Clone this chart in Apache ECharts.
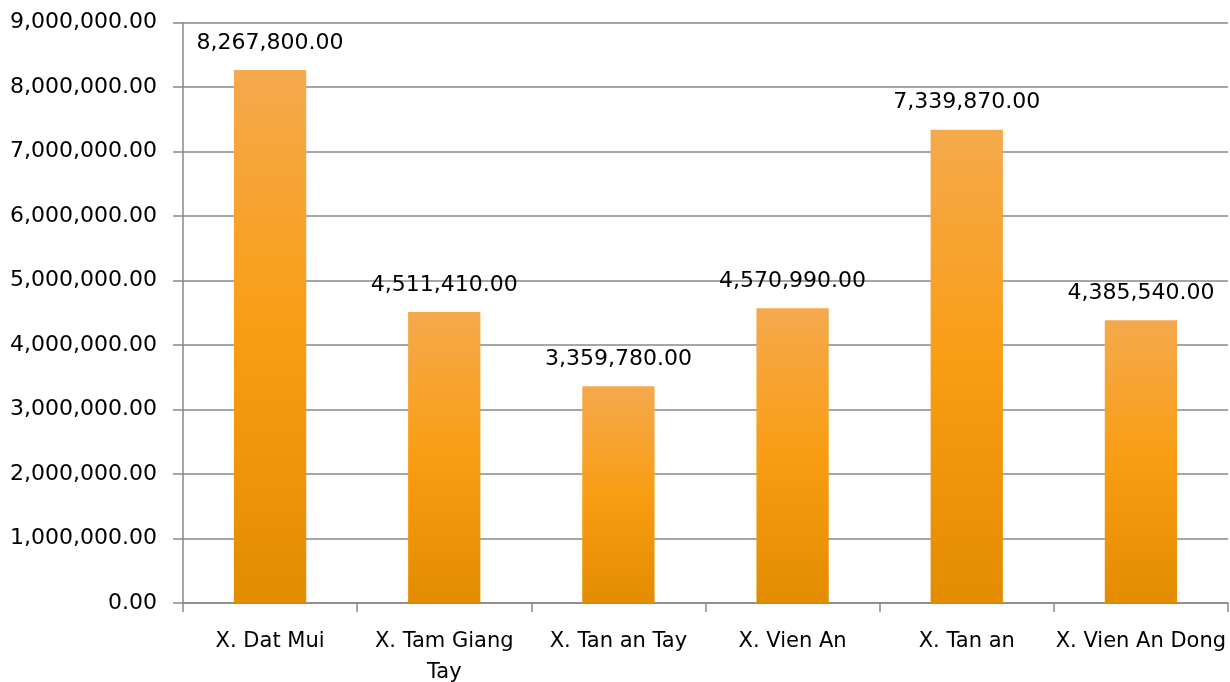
<!DOCTYPE html>
<html>
<head>
<meta charset="utf-8">
<script src="https://cdn.jsdelivr.net/npm/echarts@6/dist/echarts.min.js"></script>
<style>
html,body{margin:0;padding:0;background:#fff;}
#c{width:1230px;height:682px;}
</style>
</head>
<body>
<div id="c"></div>
<script>
const categories = ["X. Dat Mui", "X. Tam Giang\nTay", "X. Tan an Tay", "X. Vien An", "X. Tan an", "X. Vien An Dong"];
const values = [8267800, 4511410, 3359780, 4570990, 7339870, 4385540];
const yMin = 0, yMax = 9000000, yInterval = 1000000;

function fmt(v) {
  return Number(v).toLocaleString('en-US', {minimumFractionDigits: 2, maximumFractionDigits: 2});
}

const FONT = '"DejaVu Sans", sans-serif';
const chart = echarts.init(document.getElementById('c'), null, {renderer: 'canvas'});
chart.setOption({
  animation: false,
  backgroundColor: '#ffffff',
  grid: {left: 183, right: 2, top: 22.7, bottom: 79, containLabel: false, outerBoundsMode: 'none'},
  xAxis: {
    type: 'category',
    data: categories,
    axisLine: {show: true, lineStyle: {color: '#888888', width: 1.5}},
    axisTick: {show: true, length: 9, alignWithLabel: false, lineStyle: {color: '#888888', width: 1.5}},
    axisLabel: {color: '#000000', fontFamily: FONT, fontSize: 21, margin: 23, lineHeight: 31, interval: 0}
  },
  yAxis: {
    type: 'value',
    min: yMin, max: yMax, interval: yInterval,
    axisLine: {show: true, lineStyle: {color: '#888888', width: 1.5}},
    axisTick: {show: true, length: 10, lineStyle: {color: '#888888', width: 1.5}},
    splitLine: {show: true, lineStyle: {color: '#888888', width: 1.5}},
    axisLabel: {color: '#000000', fontFamily: FONT, fontSize: 22, margin: 26, formatter: fmt}
  },
  series: [{
    type: 'bar',
    data: values,
    barWidth: '41.5%',
    itemStyle: {
      color: new echarts.graphic.LinearGradient(0, 0, 0, 1, [
        {offset: 0, color: '#f4a94c'},
        {offset: 0.5, color: '#f99d12'},
        {offset: 1, color: '#e38c00'}
      ])
    },
    label: {show: true, position: 'top', distance: 16, color: '#000000', fontFamily: FONT, fontSize: 22, formatter: p => fmt(p.value)}
  }]
});
</script>
</body>
</html>
